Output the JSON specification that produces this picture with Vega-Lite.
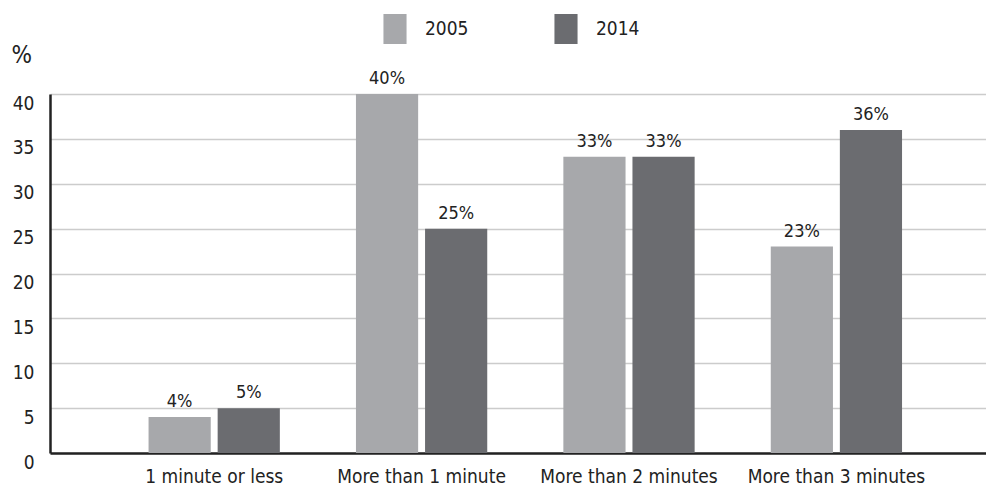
{
  "$schema": "https://vega.github.io/schema/vega-lite/v6.json",
  "width": 936,
  "height": 359,
  "autosize": {"type": "none"},
  "padding": {"left": 50, "top": 94, "right": 0, "bottom": 33},
  "background": "white",
  "config": {
    "font": "DejaVu Sans Condensed",
    "view": {"stroke": null}
  },
  "data": {
    "values": [
      {"time": "1 minute or less", "year": "2005", "pct": 4},
      {"time": "1 minute or less", "year": "2014", "pct": 5},
      {"time": "More than 1 minute", "year": "2005", "pct": 40},
      {"time": "More than 1 minute", "year": "2014", "pct": 25},
      {"time": "More than 2 minutes", "year": "2005", "pct": 33},
      {"time": "More than 2 minutes", "year": "2014", "pct": 33},
      {"time": "More than 3 minutes", "year": "2005", "pct": 23},
      {"time": "More than 3 minutes", "year": "2014", "pct": 36}
    ]
  },
  "encoding": {
    "x": {
      "field": "time",
      "type": "nominal",
      "sort": null,
      "scale": {"paddingInner": 0.367, "paddingOuter": 0.44, "align": 0.54},
      "axis": {
        "title": null,
        "labelAngle": 0,
        "labelFontSize": 19,
        "labelColor": "#222",
        "labelPadding": 14,
        "labelLimit": 0,
        "labelOverlap": false,
        "ticks": false,
        "domainColor": "#222",
        "domainWidth": 2.5
      }
    },
    "xOffset": {"field": "year", "type": "nominal", "scale": {"paddingInner": 0.1}},
    "y": {
      "field": "pct",
      "type": "quantitative",
      "scale": {"domain": [0, 40], "nice": false},
      "axis": {
        "title": "%",
        "titleAngle": 0,
        "titleFontSize": 24,
        "titleFontWeight": "normal",
        "titleColor": "#222",
        "titleX": -39,
        "titleY": -27,
        "titleAlign": "left",
        "values": [0, 5, 10, 15, 20, 25, 30, 35, 40],
        "labelFontSize": 19,
        "labelColor": "#222",
        "labelBaseline": "top",
        "labelPadding": 16,
        "ticks": false,
        "domainColor": "#222",
        "domainWidth": 2.5,
        "gridColor": "#cccccc",
        "gridWidth": 1.5
      }
    }
  },
  "layer": [
    {
      "mark": {"type": "bar"},
      "encoding": {
        "color": {
          "field": "year",
          "type": "nominal",
          "scale": {"domain": ["2005", "2014"], "range": ["#a7a8ab", "#6b6c70"]},
          "legend": {
            "title": null,
            "orient": "none",
            "direction": "horizontal",
            "legendX": 330,
            "legendY": -80,
            "symbolType": "M-0.77,-1L0.77,-1L0.77,1L-0.77,1Z",
            "symbolSize": 900,
            "symbolOpacity": 1,
            "symbolStrokeWidth": 0,
            "labelFontSize": 19,
            "labelColor": "#222",
            "labelOffset": 15,
            "columnPadding": 82
          }
        }
      }
    },
    {
      "mark": {
        "type": "text",
        "dy": -15,
        "fontSize": 18,
        "color": "#222",
        "text": {"expr": "datum.pct + '%'"}
      },
      "encoding": {}
    }
  ]
}
